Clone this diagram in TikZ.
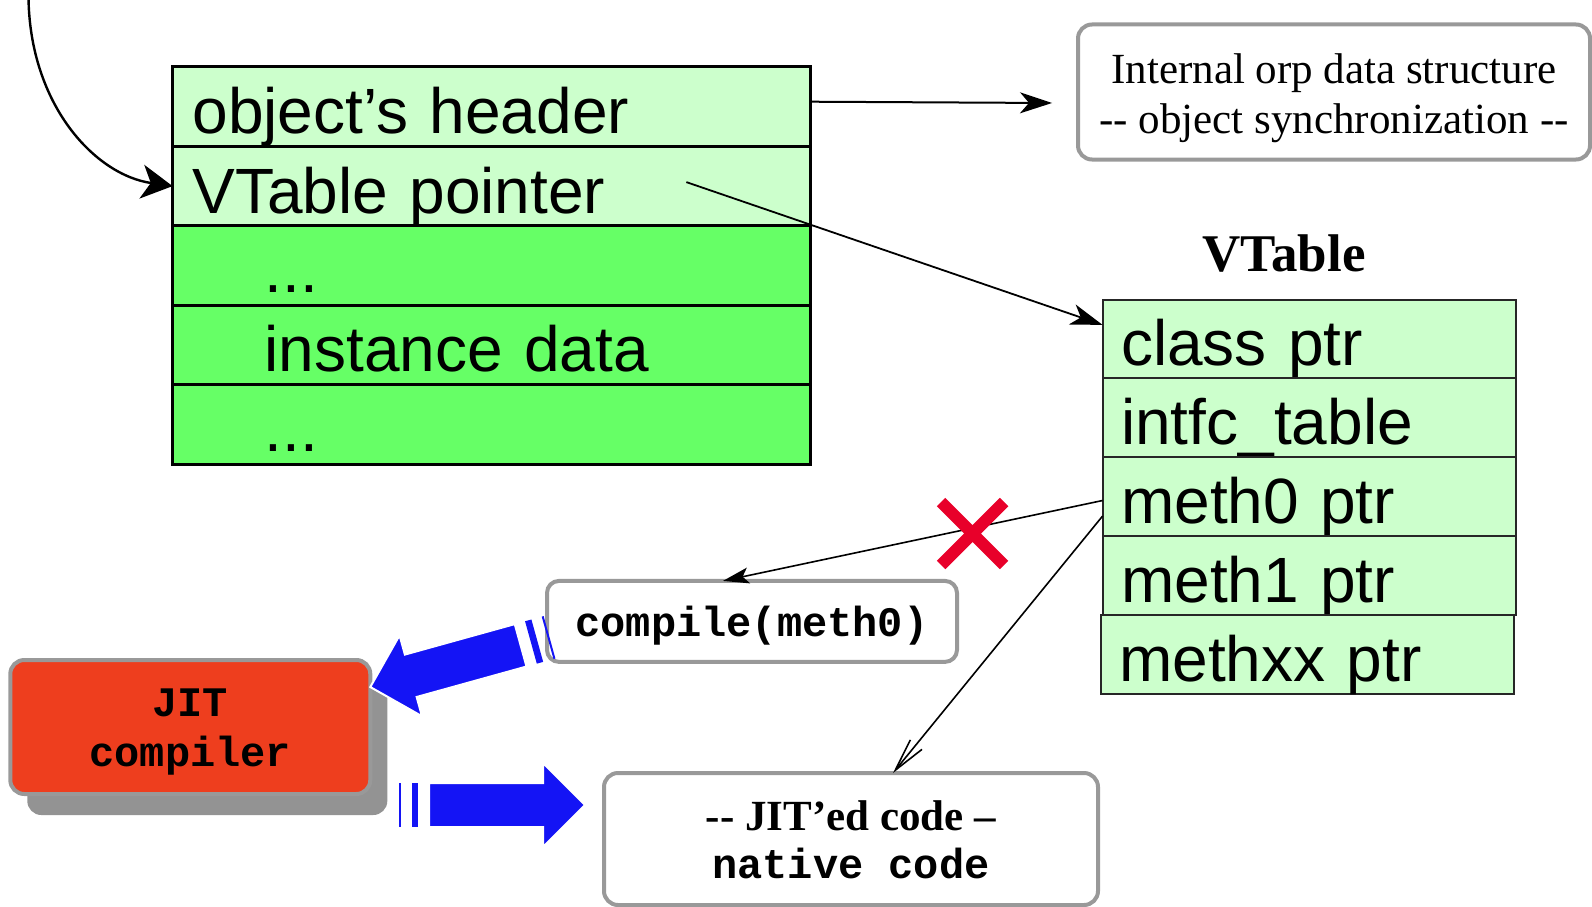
\documentclass[tikz,border=0pt]{standalone}
\usepackage{fontspec}
\setmainfont{Liberation Serif}
\setsansfont{Liberation Sans}
\setmonofont{Liberation Mono}
\usetikzlibrary{arrows.meta, positioning, shadows}
\definecolor{rowlight}{RGB}{204,255,204}
\definecolor{rowdark}{RGB}{102,255,102}
\definecolor{framegray}{RGB}{153,153,153}
\definecolor{shadegray}{RGB}{147,147,147}
\definecolor{jitred}{RGB}{238,62,30}
\definecolor{fatblue}{RGB}{20,20,245}
\definecolor{crossred}{RGB}{232,0,42}

\tikzset{
    objrow/.style={draw=black, line width=3pt, fill=rowlight, anchor=north west, outer sep=0pt,
        minimum height=79.4pt, inner xsep=20pt, text width=597.4pt, align=left,
        text height=54pt, text depth=0pt, font=\sffamily\fontsize{64}{70}\selectfont},
    datarow/.style={objrow, fill=rowdark, inner xsep=92pt, text width=453.4pt},
    vtrow/.style={objrow, draw=black!85, line width=2pt, inner xsep=18.5pt,
        minimum height=78.8pt, text width=376.4pt},
    softbox/.style={draw=framegray, line width=4pt, fill=white, rounded corners=14pt,
        outer sep=0pt, align=center},
    codefont/.style={font=\ttfamily\bfseries\fontsize{42}{50}\selectfont},
    fatarrow/.pic={
        \fill[fatblue, draw=white, line width=2pt] (0,0) -- (-42,42) -- (-42,22) -- (-156,22)
            -- (-156,-22) -- (-42,-22) -- (-42,-42) -- cycle;
        \fill[fatblue] (-166.7,22) rectangle (-173.3,-22);
        \fill[fatblue] (-184,22) rectangle (-186,-22);
    }
}

\begin{document}
\begin{tikzpicture}[x=1pt, y=-1pt]
    \useasboundingbox (0,0) rectangle (1592,907);

    % object layout
    \node[objrow] (hdr) at (172.6,67) {object’s header};
    \node[objrow, below=0pt of hdr] (vtp) {VTable pointer};
    \node[datarow, below=0pt of vtp] (dot1) {...};
    \node[datarow, below=0pt of dot1] (inst) {instance data};
    \node[datarow, below=0pt of inst] (dot2) {...};

    % orp structure
    \node[softbox, minimum width=512pt, minimum height=135pt, text height=91pt, text depth=9pt,
        font=\rmfamily\fontsize{43}{50}\selectfont] (intl) at (1334,92)
        {Internal orp data structure\\-{}- object synchronization -{}-};

    % VTable
    \node[font=\rmfamily\bfseries\fontsize{53}{60}\selectfont, anchor=base] (vttl) at (1284,271) {VTable};
    \node[vtrow] (cls) at (1102.6,299.5) {class ptr};
    \node[vtrow, below=0pt of cls] (itf) {intfc\_table};
    \node[vtrow, below=0pt of itf] (m0) {meth0 ptr};
    \node[vtrow, below=0pt of m0] (m1) {meth1 ptr};
    \node[vtrow, below=0pt of m1, xshift=-2pt] (mxx) {methxx ptr};

    % compiler and code
    \node[softbox, codefont, minimum width=410pt, minimum height=81pt, rounded corners=12pt,
        text height=39pt, text depth=9pt] (cmp) at (752,621.4) {compile(meth0)};
    \node[softbox, codefont, fill=jitred, minimum width=360pt, minimum height=134pt,
        text height=88pt, text depth=9pt,
        drop shadow={shadow xshift=17pt, shadow yshift=-21pt, fill=shadegray, opacity=1}] (jit)
        at (190.3,727) {JIT\\compiler};
    \node[softbox, minimum width=494pt, minimum height=132pt, text height=87pt, text depth=9pt,
        font=\fontsize{43}{48}\selectfont] (nat) at (851,839)
        {{\rmfamily\bfseries -{}- JIT’ed code –}\\{\ttfamily\bfseries\fontsize{42}{48}\selectfont native code}};

    % pointers
    \coordinate (ref) at (28.5,-2);
    \draw[line width=2.4pt, -{Stealth[length=31pt, width=34pt, inset=9pt]}] (ref)
        .. controls (30,105) and (95,175) .. (vtp.west);
    \draw[line width=2pt, -{Stealth[length=32pt, width=21pt, inset=9pt]}]
        ([yshift=5pt]hdr.east) -- ([shift={(-26pt,-11pt)}]intl.west);
    \draw[line width=1.8pt, -{Stealth[length=32pt, width=21pt, inset=9pt]}]
        ([shift={(195pt,4pt)}]vtp.center) -- ([yshift=14pt]cls.west);
    \draw[line width=1.6pt, -{Stealth[length=26pt, width=16pt, inset=6pt]}]
        ([yshift=-4pt]m0.west) -- ([xshift=-29pt]cmp.north);
    \draw[line width=1.6pt, -{Straight Barb[length=33pt, width=15pt]}]
        ([yshift=-19.5pt]m0.west) -- ([xshift=42pt]nat.north);

    % cross
    \draw[crossred, line width=12pt] (941,502) -- (1004,565) (1004,502) -- (941,565);

    % fat arrows
    \pic[rotate=195.5] at ([yshift=40pt]jit.east) {fatarrow};
    \pic at ([shift={(-19pt,34pt)}]nat.west) {fatarrow};
\end{tikzpicture}
\end{document}
